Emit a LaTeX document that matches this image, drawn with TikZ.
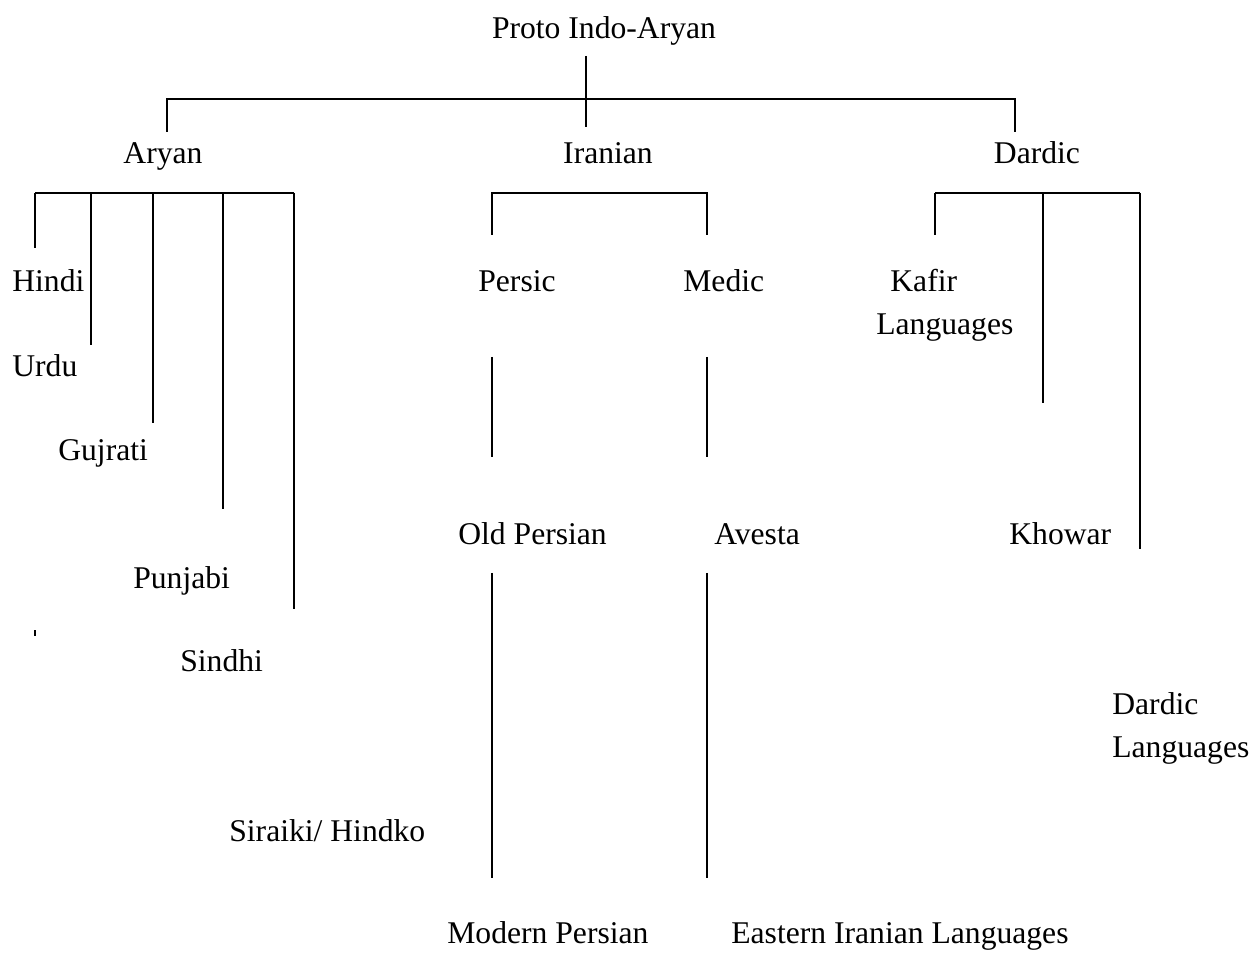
\documentclass[tikz,border=0pt]{standalone}
\usepackage{fontspec}
\setmainfont{Liberation Serif}
\usepackage{tikz}
\tikzset{
  toplabel/.style={font=\fontsize{18}{24.5}\selectfont, inner sep=0pt, anchor=base},
  langlabel/.style={font=\fontsize{18}{24.5}\selectfont, inner sep=0pt, anchor=base west, align=left},
  treeline/.style={line width=1.1pt}
}

\begin{document}
\begin{tikzpicture}[x=0.02cm, y=-0.02cm]
  \useasboundingbox (0,0) rectangle (1252,972);
  % family names
  \node[toplabel] (proto) at (604,39) {Proto Indo-Aryan};
  \node[toplabel] (aryan) at (163,164) {Aryan};
  \node[toplabel] (iranian) at (608,164) {Iranian};
  \node[toplabel] (dardic) at (1037,164) {Dardic};
  % Aryan languages
  \node[langlabel] (hindi) at (12,292) {Hindi};
  \node[langlabel] (urdu) at (12,377) {Urdu};
  \node[langlabel] (gujrati) at (58,461) {Gujrati};
  \node[langlabel] (punjabi) at (133,589) {Punjabi};
  \node[langlabel] (sindhi) at (180,672) {Sindhi};
  \node[langlabel] (siraiki) at (229,842) {Siraiki/ Hindko};
  % Iranian languages
  \node[langlabel] (persic) at (478,292) {Persic};
  \node[langlabel] (medic) at (683,292) {Medic};
  \node[langlabel] (oldpersian) at (458,545) {Old Persian};
  \node[langlabel] (avesta) at (714,545) {Avesta};
  \node[langlabel] (modpersian) at (447,944) {Modern Persian};
  \node[langlabel] (eastiran) at (731,944) {Eastern Iranian Languages};
  % Dardic languages
  \node[langlabel] (kafir) at (876,335) {\hspace{8pt}Kafir\\Languages};
  \node[langlabel] (khowar) at (1009,545) {Khowar};
  \node[langlabel] (dardlang) at (1112,758) {Dardic\\Languages};

  % root fork
  \coordinate (rootTop) at (586,56);
  \coordinate (rootEnd) at (586,127);
  \coordinate (rootBarL) at (167,99);
  \coordinate (rootBarR) at (1015,99);
  \coordinate (rootDropL) at (167,132);
  \coordinate (rootDropR) at (1015,132);
  \draw[treeline] (rootTop) -- (rootEnd);
  \draw[treeline] (rootDropL) -- (rootBarL) -- (rootBarR) -- (rootDropR);

  % Aryan fork
  \coordinate (aryanBarL) at (35,193);
  \coordinate (aryanBarR) at (294,193);
  \draw[treeline] (aryanBarL) -- (aryanBarR);
  \foreach \n/\x/\y in {hi/35/248, ur/91/345, gu/153/423, pu/223/509, si/294/609} {
    \coordinate (aryanTop\n) at (\x,193);
    \coordinate (aryanEnd\n) at (\x,\y);
    \draw[treeline] (aryanTop\n) -- (aryanEnd\n);
  }
  \coordinate (stray) at (35,633);
  \fill (stray) ++(-1,-3) rectangle ++(2,6);

  % Iranian fork
  \coordinate (iranDropL) at (492,235);
  \coordinate (iranBarL) at (492,193);
  \coordinate (iranBarR) at (707,193);
  \coordinate (iranDropR) at (707,235);
  \draw[treeline] (iranDropL) -- (iranBarL) -- (iranBarR) -- (iranDropR);
  \foreach \n/\x in {per/492, med/707} {
    \coordinate (\n A) at (\x,357);
    \coordinate (\n B) at (\x,457);
    \coordinate (\n C) at (\x,573);
    \coordinate (\n D) at (\x,878);
    \draw[treeline] (\n A) -- (\n B);
    \draw[treeline] (\n C) -- (\n D);
  }

  % Dardic fork
  \coordinate (dardBarL) at (935,193);
  \coordinate (dardBarR) at (1140,193);
  \draw[treeline] (dardBarL) -- (dardBarR);
  \foreach \n/\x/\y in {ka/935/235, kh/1043/403, dl/1140/549} {
    \coordinate (dardTop\n) at (\x,193);
    \coordinate (dardEnd\n) at (\x,\y);
    \draw[treeline] (dardTop\n) -- (dardEnd\n);
  }
\end{tikzpicture}
\end{document}
